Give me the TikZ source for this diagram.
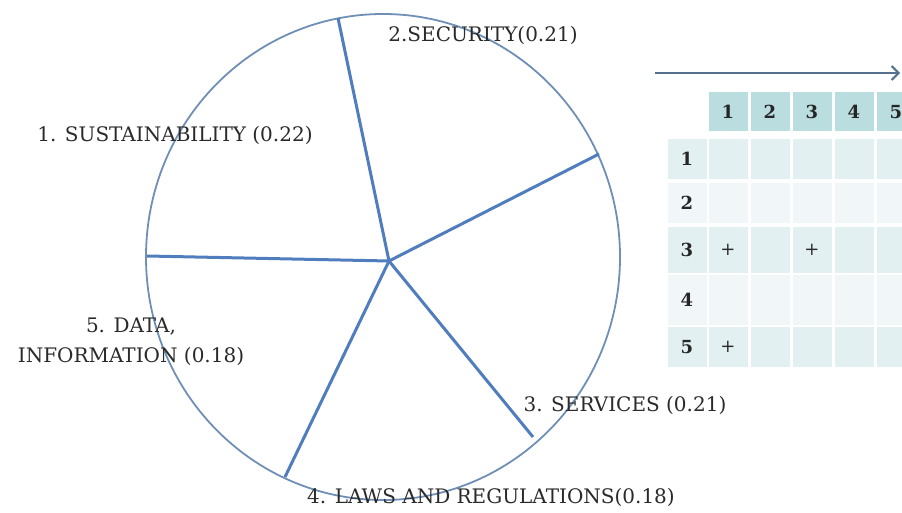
\documentclass[tikz,border=0pt]{standalone}
\usepackage{fontspec}
\setmainfont{DejaVu Serif}
\usetikzlibrary{arrows.meta,positioning}
\definecolor{rimblue}{HTML}{6F8FB7}
\definecolor{spokeblue}{HTML}{4F7DBD}
\definecolor{headteal}{HTML}{BADDE0}
\definecolor{rowdark}{HTML}{E3F0F1}
\definecolor{rowlight}{HTML}{F1F7F8}
\definecolor{txtgrey}{HTML}{2A2A2A}
\definecolor{arrowgrey}{HTML}{56708F}

\begin{document}
\begin{tikzpicture}[
    x=1pt, y=-1pt,
    font=\fontsize{20}{30}\selectfont,
    lbl/.style={text=txtgrey, inner sep=0pt},
    spoke/.style={spokeblue, line width=3pt},
    cell/.style={minimum width=39pt, inner sep=0pt, text=black!85,
      font=\fontsize{18}{20}\selectfont\bfseries},
    arr/.style={-{Straight Barb[length=7pt, width=14pt]}, line width=2pt, arrowgrey}
  ]
  \useasboundingbox (0,0) rectangle (902,513);
  \clip (0,0) rectangle (902,513);

  % wheel
  \draw[rimblue, line width=1.8pt] (383,257) ellipse [x radius=237, y radius=243];
  \coordinate (hub) at (389,261);
  \coordinate (s1) at (147,256);
  \coordinate (s2) at (338,18);
  \coordinate (s3) at (599,154);
  \coordinate (s4) at (533,437);
  \coordinate (s5) at (285,477);
  \draw[spoke] (hub) -- (s1);
  \draw[spoke] (hub) -- (s2);
  \draw[spoke] (hub) -- (s3);
  \draw[spoke] (hub) -- (s4);
  \draw[spoke] (hub) -- (s5);

  \node[lbl] (sust) at (175,135) {1. SUSTAINABILITY (0.22)};
  \node[lbl] (secu) at (483,35) {2.SECURITY(0.21)};
  \node[lbl] (serv) at (625,405) {3. SERVICES (0.21)};
  \node[lbl] (laws) at (491,497) {4. LAWS AND REGULATIONS(0.18)};
  \node[lbl, align=center] (data) at (131,342) {5. DATA,\\INFORMATION (0.18)};

  % matrix
  \coordinate (axs) at (655,73);
  \coordinate (axe) at (900,73);
  \draw[arr] (axs) -- (axe);
  \foreach \c in {1,...,5}
    \node[cell, fill=headteal, minimum height=39pt] (h\c) at ({686+42*\c},112) {\c};
  \foreach \r/\y/\h/\f in {1/159/40/rowdark, 2/203/40/rowlight, 3/250/46/rowdark,
                           4/300/50/rowlight, 5/347/40/rowdark} {
    \node[cell, fill=\f, minimum height=\h pt] (r\r) at (687,\y) {\r};
    \foreach \c in {1,...,5}
      \node[cell, fill=\f, minimum height=\h pt] (c\r\c) at ({686+42*\c},\y) {};
  }
  \node[lbl, font=\fontsize{18}{20}\selectfont] (p31) at (c31) {+};
  \node[lbl, font=\fontsize{18}{20}\selectfont] (p33) at (c33) {+};
  \node[lbl, font=\fontsize{18}{20}\selectfont] (p51) at (c51) {+};
\end{tikzpicture}
\end{document}
